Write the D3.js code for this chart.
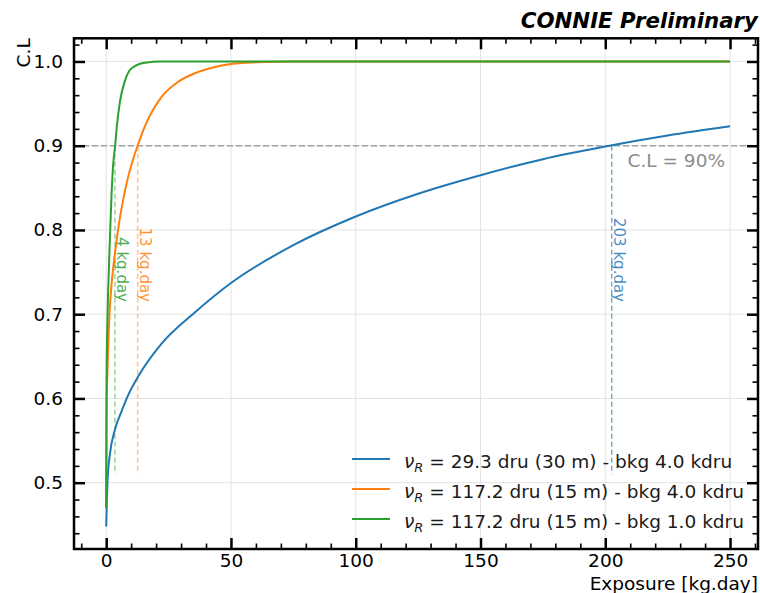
<!DOCTYPE html>
<html>
<head>
<meta charset="utf-8">
<script src="https://cdn.jsdelivr.net/npm/d3@7"></script>
<style>
  body { margin: 0; background: #fff; }
  svg { display: block; font-family: "DejaVu Sans", sans-serif; }
</style>
</head>
<body>
<svg id="chart"></svg>
<script>
// Values: [exposure kg.day, C.L]
const seriesBlue = [[0,0.448],[0.3,0.48],[0.55,0.503],[1.5,0.534],[3.5,0.563],[6.2,0.585],[8.8,0.604],
  [12.8,0.626],[22.2,0.665],[35.5,0.702],[50,0.737],[75,0.782],[100,0.816],[125,0.843],[150,0.865],
  [175,0.884],[200,0.899],[225,0.912],[250,0.923]];
const seriesOrange = [[0,0.47],[0.16,0.587],[0.4,0.622],[0.8,0.661],[1.5,0.709],[2.2,0.737],[3.5,0.772],
  [4.8,0.801],[6.8,0.836],[8.8,0.863],[10.8,0.884],[12.6,0.9],[15.5,0.923],[22.2,0.958],[28.9,0.976],
  [35.5,0.986],[41.6,0.992],[50,0.997],[60,0.999],[75,1.0],[250,1.0]];
const seriesGreen = [[0,0.47],[0.16,0.622],[0.56,0.701],[0.8,0.729],[1.5,0.79],[2.16,0.843],[2.8,0.878],
  [3.6,0.9],[4.2,0.921],[5.5,0.952],[7.5,0.977],[10.2,0.992],[15.5,0.9985],[22,1.0],[250,1.0]];

const seriesColors = ['#1f77b4', '#ff7f0e', '#2ca02c'];
const seriesLabels = [
  ' = 29.3 dru (30 m) - bkg 4.0 kdru',
  ' = 117.2 dru (15 m) - bkg 4.0 kdru',
  ' = 117.2 dru (15 m) - bkg 1.0 kdru'
];
const crossX = [202.6, 12.6, 3.5];
const crossLabels = ['203 kg.day', '13 kg.day', '4 kg.day'];
const clLevel = 0.9;

const xMajor = [0, 50, 100, 150, 200, 250];
const yMajor = [0.5, 0.6, 0.7, 0.8, 0.9, 1.0];

class CLChart {

  constructor(_config) {
    this.config = {
      parentElement: _config.parentElement,
      containerWidth: 760,
      containerHeight: 593,
      plot: {left: 74, right: 758, top: 38.3, bottom: 549},
      fontSize: 18.5
    }
    this.initVis();
  }

  initVis() {
    let vis = this;
    const p = vis.config.plot;

    vis.svg = d3.select(vis.config.parentElement)
        .attr('width', vis.config.containerWidth)
        .attr('height', vis.config.containerHeight);

    vis.x = d3.scaleLinear().domain([-12.9, 261.2]).range([p.left, p.right]);
    vis.y = d3.scaleLinear().domain([0.4213, 1.0275]).range([p.bottom, p.top]);

    vis.xMinor = d3.range(-10, 261, 10).filter(d => d % 50 !== 0);
    vis.yMinor = d3.range(44, 103, 2).map(d => d / 100).filter(d => Math.round(d * 100) % 10 !== 0);

    vis.updateVis();
  }

  updateVis() {
    let vis = this;
    vis.series = [seriesBlue, seriesOrange, seriesGreen];
    vis.renderVis();
  }

  renderVis() {
    let vis = this;
    const p = vis.config.plot;
    const fs = vis.config.fontSize;
    const x = vis.x, y = vis.y;

    // grid
    const grid = vis.svg.append('g').attr('stroke', '#e3e3e3').attr('stroke-width', 1);
    grid.selectAll('.gx').data(xMajor).join('line')
        .attr('x1', d => x(d)).attr('x2', d => x(d)).attr('y1', p.top).attr('y2', p.bottom);
    grid.selectAll('.gy').data(yMajor).join('line')
        .attr('y1', d => y(d)).attr('y2', d => y(d)).attr('x1', p.left).attr('x2', p.right);

    // 90% line
    vis.svg.append('line')
        .attr('x1', p.left).attr('x2', p.right)
        .attr('y1', y(clLevel)).attr('y2', y(clLevel))
        .attr('stroke', '#a3a3a3').attr('stroke-width', 1.5)
        .attr('stroke-dasharray', '6,3');

    vis.svg.append('text')
        .attr('x', 725).attr('y', y(clLevel) + 21.5)
        .attr('text-anchor', 'end')
        .attr('font-size', fs).attr('fill', '#8c8c8c')
        .text('C.L = 90%');

    // crossing markers
    crossX.forEach((cx, i) => {
      vis.svg.append('line')
          .attr('x1', x(cx)).attr('x2', x(cx))
          .attr('y1', y(clLevel)).attr('y2', y(0.51))
          .attr('stroke', seriesColors[i])
          .attr('stroke-opacity', i === 0 ? 0.75 : 0.45)
          .attr('stroke-width', i === 0 ? 1.2 : 1.6)
          .attr('stroke-dasharray', '5,3');
      vis.svg.append('text')
          .attr('transform', `translate(${x(cx) + 2},${y(0.7145)}) rotate(90)`)
          .attr('text-anchor', 'end')
          .attr('font-size', 15).attr('fill', seriesColors[i]).attr('fill-opacity', 0.85)
          .text(crossLabels[i]);
    });

    // curves
    const line = d3.line()
        .x(d => x(d[0])).y(d => y(d[1]))
        .curve(d3.curveMonotoneX);
    vis.svg.selectAll('.curve').data(vis.series).join('path')
        .attr('class', 'curve')
        .attr('d', line)
        .attr('fill', 'none')
        .attr('stroke', (d, i) => seriesColors[i])
        .attr('stroke-width', 2);

    // legend
    const legend = vis.svg.append('g').attr('transform', 'translate(352,459)');
    seriesLabels.forEach((lab, i) => {
      const row = legend.append('g').attr('transform', `translate(0,${i * 30})`);
      row.append('line').attr('x1', 0).attr('x2', 38)
          .attr('stroke', seriesColors[i]).attr('stroke-width', 2);
      const t = row.append('text').attr('x', 52).attr('y', 8.5).attr('font-size', fs).attr('fill', '#1a1a1a');
      t.append('tspan').attr('font-style', 'italic').text('ν');
      t.append('tspan').attr('font-style', 'italic').attr('font-size', 13).attr('dy', 4).text('R');
      t.append('tspan').attr('dy', -4).text(lab);
    });

    // axes (ticks inward on all sides)
    const tickStyle = (g, w) => {
      g.select('.domain').remove();
      g.selectAll('.tick line').attr('stroke', '#000').attr('stroke-width', w);
      g.selectAll('.tick text').attr('font-size', fs).attr('fill', '#000').attr('font-family', 'DejaVu Sans');
    };
    vis.svg.append('g').attr('transform', `translate(0,${p.bottom})`)
        .call(d3.axisBottom(x).tickValues(xMajor).tickSize(-11).tickPadding(5).tickFormat(d3.format('d')))
        .call(g => tickStyle(g, 2.5));
    vis.svg.append('g').attr('transform', `translate(0,${p.bottom})`)
        .call(d3.axisBottom(x).tickValues(vis.xMinor).tickSize(-5.5).tickFormat(''))
        .call(g => tickStyle(g, 1.6));
    vis.svg.append('g').attr('transform', `translate(0,${p.top})`)
        .call(d3.axisTop(x).tickValues(xMajor).tickSize(-11).tickFormat(''))
        .call(g => tickStyle(g, 2.5));
    vis.svg.append('g').attr('transform', `translate(0,${p.top})`)
        .call(d3.axisTop(x).tickValues(vis.xMinor).tickSize(-5.5).tickFormat(''))
        .call(g => tickStyle(g, 1.6));
    vis.svg.append('g').attr('transform', `translate(${p.left},0)`)
        .call(d3.axisLeft(y).tickValues(yMajor).tickSize(-11).tickPadding(11).tickFormat(d3.format('.1f')))
        .call(g => tickStyle(g, 2.5));
    vis.svg.append('g').attr('transform', `translate(${p.left},0)`)
        .call(d3.axisLeft(y).tickValues(vis.yMinor).tickSize(-5.5).tickFormat(''))
        .call(g => tickStyle(g, 1.6));
    vis.svg.append('g').attr('transform', `translate(${p.right},0)`)
        .call(d3.axisRight(y).tickValues(yMajor).tickSize(-11).tickFormat(''))
        .call(g => tickStyle(g, 2.5));
    vis.svg.append('g').attr('transform', `translate(${p.right},0)`)
        .call(d3.axisRight(y).tickValues(vis.yMinor).tickSize(-5.5).tickFormat(''))
        .call(g => tickStyle(g, 1.6));

    // frame
    vis.svg.append('rect')
        .attr('x', p.left).attr('y', p.top)
        .attr('width', p.right - p.left).attr('height', p.bottom - p.top)
        .attr('fill', 'none').attr('stroke', '#000').attr('stroke-width', 2.5);

    // labels
    vis.svg.append('text')
        .attr('x', p.right).attr('y', 589.5)
        .attr('text-anchor', 'end').attr('font-size', fs)
        .text('Exposure [kg.day]');
    vis.svg.append('text')
        .attr('transform', `translate(29.5,${p.top}) rotate(-90)`)
        .attr('text-anchor', 'end').attr('font-size', fs)
        .text('C.L');
    vis.svg.append('text')
        .attr('x', 758).attr('y', 28)
        .attr('text-anchor', 'end').attr('font-size', 21.3)
        .attr('font-weight', 'bold').attr('font-style', 'italic')
        .text('CONNIE Preliminary');
  }
}

new CLChart({parentElement: '#chart'});
</script>
</body>
</html>
